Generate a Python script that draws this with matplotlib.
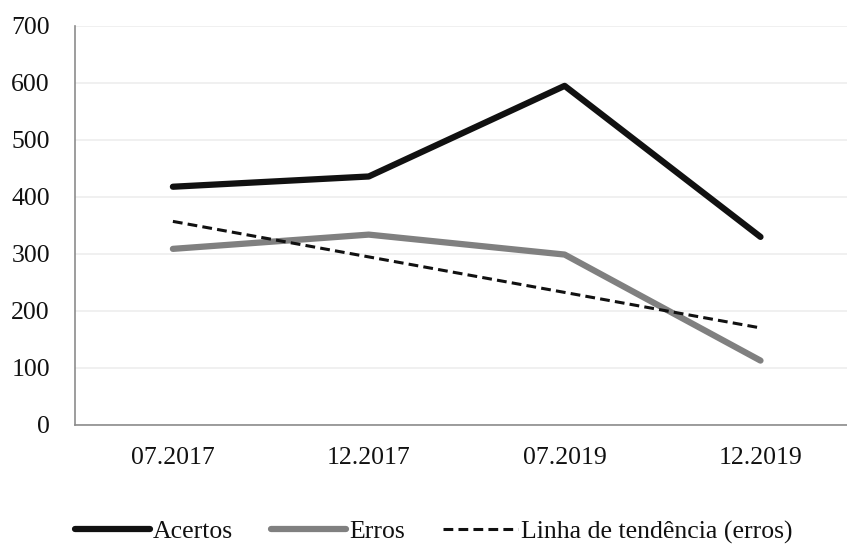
import numpy as np
import matplotlib
matplotlib.use("Agg")
import matplotlib.pyplot as plt

categories = ["07.2017", "12.2017", "07.2019", "12.2019"]
acertos = [418, 436, 595, 330]
erros = [309, 334, 299, 113]
yticks = [0, 100, 200, 300, 400, 500, 600, 700]

plt.rcParams['font.family'] = ['Liberation Serif', 'DejaVu Serif']

fig = plt.figure(figsize=(8.47, 5.45), dpi=100)
ax = fig.add_axes([0.0885, 0.2202, 0.925, 0.7321])

x = np.arange(len(categories))
ax.plot(x, acertos, color='#111111', lw=4.5, solid_capstyle='round', label='Acertos', zorder=3)
ax.plot(x, erros, color='#808080', lw=4.5, solid_capstyle='round', label='Erros', zorder=3)
coef = np.polyfit(x, erros, 1)
trend = np.polyval(coef, x)
ax.plot(x, trend, color='#111111', lw=2.2, ls=(0, (3.2, 1.7)), label='Linha de tendência (erros)', zorder=4)

ax.set_xlim(-0.5, 3.5)
ax.set_ylim(0, 700)
ax.set_yticks(yticks)
ax.set_xticks(x)
ax.set_xticklabels(categories)
ax.yaxis.grid(True, color='#eeeeee', lw=1.2, zorder=0)
ax.set_axisbelow(True)
for s in ['top', 'right']:
    ax.spines[s].set_visible(False)
ax.spines['left'].set_color('#8c8c8c')
ax.spines['bottom'].set_color('#8c8c8c')
ax.spines['left'].set_linewidth(1.2)
ax.spines['bottom'].set_linewidth(1.2)
ax.tick_params(axis='both', length=0, labelsize=18.5, colors='#111111')
ax.tick_params(axis='y', pad=18)
ax.tick_params(axis='x', pad=16)

leg = fig.legend(loc='center', bbox_to_anchor=(0.512, 0.024), ncol=3, frameon=False,
                 fontsize=18.5, handlelength=2.9, handletextpad=0.12, columnspacing=1.5)
for t in leg.get_texts():
    t.set_color('#111111')

fig.savefig('out.png', dpi=100)
